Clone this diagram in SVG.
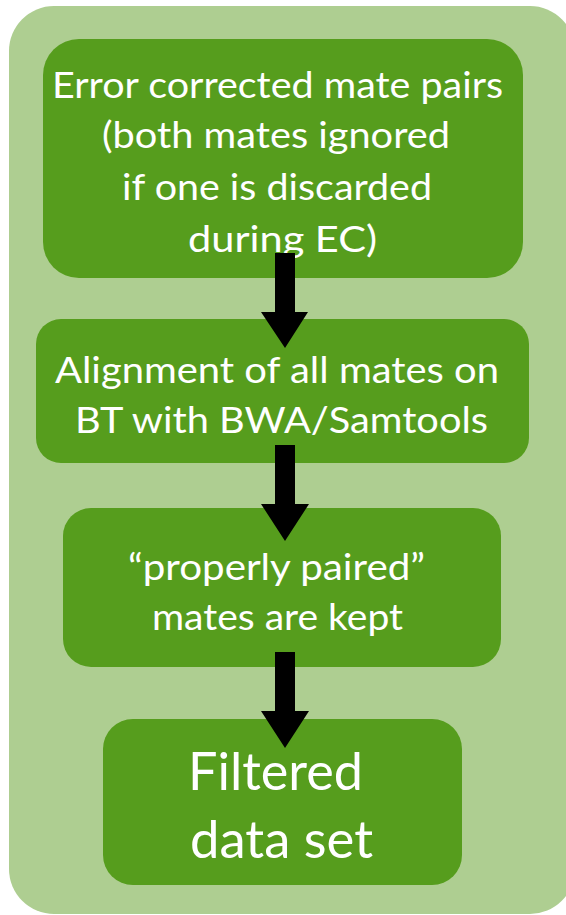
<svg xmlns="http://www.w3.org/2000/svg" width="566" height="915" viewBox="0 0 566 915">
<defs>
<style>
.bg{fill:#AECE91;}
.box{fill:#569D1D;}
.t{fill:#FFFFFF;font-family:"Lato","Open Sans",sans-serif;font-size:36px;}
.big{font-size:52px;}
.arrow{fill:#000000;}
</style>
</defs>
<rect class="bg" x="9" y="6" width="566" height="908" rx="45" ry="45"/>
<g id="node1">
<rect class="box" x="43" y="39" width="480" height="239" rx="36" ry="36"/>
<text class="t" x="52" y="98" textLength="451" lengthAdjust="spacingAndGlyphs">Error corrected mate pairs</text>
<text class="t" x="102" y="148" textLength="348" lengthAdjust="spacingAndGlyphs">(both mates ignored</text>
<text class="t" x="122" y="200" textLength="310" lengthAdjust="spacingAndGlyphs">if one is discarded</text>
<text class="t" x="188" y="252" textLength="189" lengthAdjust="spacingAndGlyphs">during EC)</text>
</g>
<g id="node2">
<rect class="box" x="36" y="319" width="493" height="144" rx="25" ry="25"/>
<text class="t" x="55" y="383" textLength="444" lengthAdjust="spacingAndGlyphs">Alignment of all mates on</text>
<text class="t" x="75" y="433" textLength="413" lengthAdjust="spacingAndGlyphs">BT with BWA/Samtools</text>
</g>
<g id="node3">
<rect class="box" x="63" y="508" width="438" height="159" rx="28" ry="28"/>
<text class="t" x="128" y="580" textLength="297" lengthAdjust="spacingAndGlyphs">“properly paired”</text>
<text class="t" x="152" y="630" textLength="251" lengthAdjust="spacingAndGlyphs">mates are kept</text>
</g>
<g id="node4">
<rect class="box" x="103" y="719" width="359" height="166" rx="30" ry="30"/>
<text class="t big" x="188" y="790" textLength="175" lengthAdjust="spacingAndGlyphs">Filtered</text>
<text class="t big" x="190" y="858" textLength="183" lengthAdjust="spacingAndGlyphs">data set</text>
</g>
<g id="connectors">
<polygon class="arrow" points="275,253 295,253 295,312 308,312 285,348 261,312 275,312"/>
<polygon class="arrow" points="275,445 295,445 295,504 309,504 285,541 261,504 275,504"/>
<polygon class="arrow" points="275,652 295,652 295,711 309,711 285,748 261,711 275,711"/>
</g>
</svg>
